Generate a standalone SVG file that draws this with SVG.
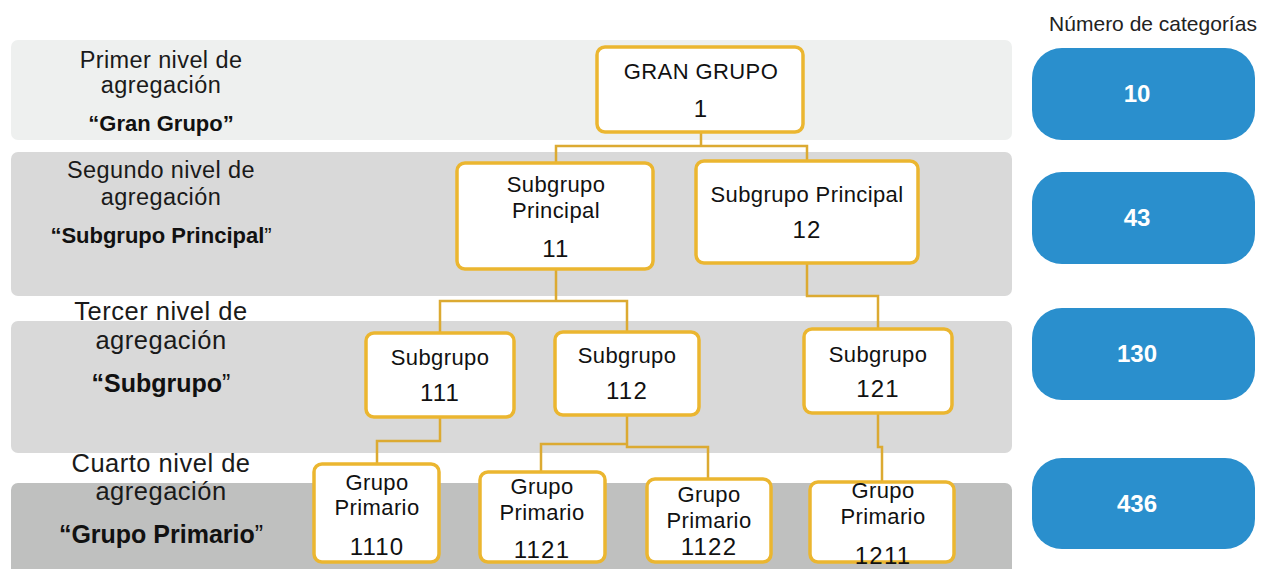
<svg xmlns="http://www.w3.org/2000/svg" width="1262" height="569" viewBox="0 0 1262 569">
<style>
.lbl{font-family:"Liberation Sans",Arial,sans-serif;font-size:23.5px;letter-spacing:0.4px;fill:#1a1a1a;text-anchor:middle}
.lbl2{font-family:"Liberation Sans",Arial,sans-serif;font-size:25.5px;letter-spacing:0.5px;fill:#1a1a1a;text-anchor:middle}
.lblb{font-family:"Liberation Sans",Arial,sans-serif;font-size:22px;font-weight:bold;fill:#111;text-anchor:middle}
.lblb2{font-family:"Liberation Sans",Arial,sans-serif;font-size:25px;font-weight:bold;fill:#111;text-anchor:middle}
.nb{fill:#fff;stroke:#ebb630;stroke-width:3.5}
.nt{font-family:"Liberation Sans",Arial,sans-serif;font-size:22px;letter-spacing:0.4px;fill:#111;text-anchor:middle}
.nn{font-family:"Liberation Sans",Arial,sans-serif;font-size:24px;letter-spacing:1.2px;fill:#111;text-anchor:middle}
.cn{fill:none;stroke:#dcaa32;stroke-width:2.5}
.cb{fill:#2a8fcd}
.ct{font-family:"Liberation Sans",Arial,sans-serif;font-size:24px;font-weight:bold;fill:#fff;text-anchor:middle}
.hd{font-family:"Liberation Sans",Arial,sans-serif;font-size:21px;fill:#222;text-anchor:middle}
</style>
<rect width="1262" height="569" fill="#fff"/>
<g id="bands">
<rect x="11" y="40" width="1001" height="100" rx="7" fill="#eef0ef"/>
<rect x="11" y="152" width="1001" height="144" rx="7" fill="#d9d9d9"/>
<rect x="11" y="321" width="1001" height="132" rx="7" fill="#d9d9d9"/>
<rect x="11" y="483" width="1001" height="100" rx="7" fill="#bfc0bf"/>
</g>
<g id="level-labels">
<text class="lbl" x="161" y="68">Primer nivel de</text>
<text class="lbl" x="161" y="93">agregación</text>
<text class="lblb" x="161" y="131">“Gran Grupo”</text>
<text class="lbl" x="161" y="178">Segundo nivel de</text>
<text class="lbl" x="161" y="205">agregación</text>
<text class="lblb" x="161" y="243">“Subgrupo Principal<tspan font-weight="normal">”</tspan></text>
<text class="lbl2" x="161" y="320">Tercer nivel de</text>
<text class="lbl2" x="161" y="349">agregación</text>
<text class="lblb2" x="161" y="392">“Subgrupo<tspan font-weight="normal">”</tspan></text>
<text class="lbl2" x="161" y="472">Cuarto nivel de</text>
<text class="lbl2" x="161" y="500">agregación</text>
<text class="lblb2" x="161" y="543">“Grupo Primario<tspan font-weight="normal">”</tspan></text>
</g>
<g id="connectors">
<path class="cn" d="M701 132 V146 H556 V163 M701 146 H807 V161"/>
<path class="cn" d="M556 269 V301 H440 V333 M556 301 H627 V332"/>
<path class="cn" d="M807 263 V296 H878 V329"/>
<path class="cn" d="M440 417 V441 H377 V464"/>
<path class="cn" d="M627 415 V444 H541 V472 M627 444 V447 H708 V479"/>
<path class="cn" d="M878 413 V447 H882 V482"/>
</g>
<g id="n1"><rect class="nb" x="597" y="47" width="206" height="85" rx="8"/><text class="nt" x="701" y="79">GRAN GRUPO</text><text class="nn" x="701" y="117">1</text></g>
<g id="n11"><rect class="nb" x="457" y="163" width="196" height="106" rx="8"/><text class="nt" x="556" y="192">Subgrupo</text><text class="nt" x="556" y="218">Principal</text><text class="nn" x="556" y="257">11</text></g>
<g id="n12"><rect class="nb" x="696" y="161" width="222" height="102" rx="8"/><text class="nt" x="807" y="202">Subgrupo Principal</text><text class="nn" x="807" y="238">12</text></g>
<g id="n111"><rect class="nb" x="366" y="333" width="148" height="84" rx="8"/><text class="nt" x="440" y="365">Subgrupo</text><text class="nn" x="440" y="401">111</text></g>
<g id="n112"><rect class="nb" x="555" y="332" width="144" height="83" rx="8"/><text class="nt" x="627" y="363">Subgrupo</text><text class="nn" x="627" y="399">112</text></g>
<g id="n121"><rect class="nb" x="804" y="329" width="148" height="84" rx="8"/><text class="nt" x="878" y="362">Subgrupo</text><text class="nn" x="878" y="397">121</text></g>
<g id="n1110"><rect class="nb" x="314" y="464" width="125" height="98" rx="8"/><text class="nt" x="377" y="490">Grupo</text><text class="nt" x="377" y="515">Primario</text><text class="nn" x="377" y="555">1110</text></g>
<g id="n1121"><rect class="nb" x="480" y="472" width="125" height="90" rx="8"/><text class="nt" x="542" y="494">Grupo</text><text class="nt" x="542" y="520">Primario</text><text class="nn" x="542" y="558">1121</text></g>
<g id="n1122"><rect class="nb" x="647" y="479" width="124" height="83" rx="8"/><text class="nt" x="709" y="502">Grupo</text><text class="nt" x="709" y="528">Primario</text><text class="nn" x="709" y="555">1122</text></g>
<g id="n1211"><rect class="nb" x="810" y="482" width="144" height="80" rx="8"/><text class="nt" x="883" y="498">Grupo</text><text class="nt" x="883" y="524">Primario</text><text class="nn" x="883" y="564">1211</text></g>
<g id="counts">
<text class="hd" x="1153" y="31">Número de categorías</text>
<g id="c1"><rect class="cb" x="1032" y="48" width="223" height="92" rx="30"/><text class="ct" x="1137" y="102">10</text></g>
<g id="c2"><rect class="cb" x="1032" y="172" width="223" height="92" rx="30"/><text class="ct" x="1137" y="226">43</text></g>
<g id="c3"><rect class="cb" x="1032" y="308" width="223" height="92" rx="30"/><text class="ct" x="1137" y="362">130</text></g>
<g id="c4"><rect class="cb" x="1032" y="458" width="223" height="91" rx="30"/><text class="ct" x="1137" y="512">436</text></g>
</g>
</svg>
